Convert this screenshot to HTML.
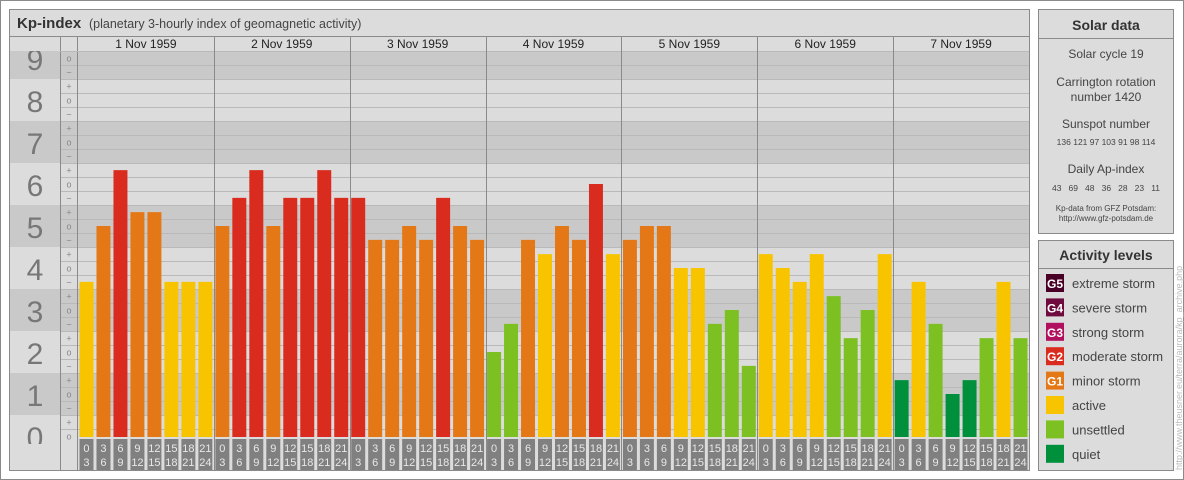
<!DOCTYPE html>
<html><head><meta charset="utf-8"><style>
html,body{margin:0;padding:0;background:#fff;}
svg{display:block;font-family:"Liberation Sans",sans-serif;}
</style></head><body>
<svg id="c" width="1184" height="480" viewBox="0 0 1184 480" xmlns="http://www.w3.org/2000/svg">
<rect x="0.5" y="0.5" width="1183" height="479" fill="#fff" stroke="#8a8a8a"/>
<g>
<rect x="9.5" y="9.5" width="1020" height="461" fill="#dcdcdc" stroke="#8a8a8a"/>
<rect x="10" y="10" width="1019" height="26" fill="#dcdcdc"/>
<line x1="10" y1="36.5" x2="1029" y2="36.5" stroke="#8a8a8a"/>
<text x="17" y="28" font-size="15" font-weight="bold" fill="#333">Kp-index</text>
<text x="89" y="28" font-size="12.5" fill="#444">(planetary 3-hourly index of geomagnetic activity)</text>
<g id="grid"></g>
<g id="bars"></g>
<g id="labels"></g>
</g>
<g>
<rect x="1038.5" y="9.5" width="135" height="224" fill="#dcdcdc" stroke="#8a8a8a"/>
<line x1="1039" y1="38.5" x2="1173" y2="38.5" stroke="#8a8a8a"/>
<text x="1106" y="30" font-size="14" font-weight="bold" fill="#333" text-anchor="middle">Solar data</text>
<g font-size="12" fill="#444" text-anchor="middle">
<text x="1106" y="58">Solar cycle 19</text>
<text x="1106" y="86">Carrington rotation</text>
<text x="1106" y="101">number 1420</text>
<text x="1106" y="128">Sunspot number</text>
<text x="1106" y="173">Daily Ap-index</text>
</g>
<text x="1106" y="145" font-size="8.5" fill="#444" text-anchor="middle">136 121  97  103  91   98  114</text>
<text x="1106" y="191" font-size="8.5" fill="#444" text-anchor="middle" xml:space="preserve">43   69   48   36   28   23   11</text>
<text x="1106" y="211" font-size="8" fill="#444" text-anchor="middle">Kp-data from GFZ Potsdam:</text>
<text x="1106" y="221" font-size="8" fill="#444" text-anchor="middle">http://www.gfz-potsdam.de</text>
</g>
<g>
<rect x="1038.5" y="240.5" width="135" height="230" fill="#dcdcdc" stroke="#8a8a8a"/>
<line x1="1039" y1="268.5" x2="1173" y2="268.5" stroke="#8a8a8a"/>
<text x="1106" y="260" font-size="14" font-weight="bold" fill="#333" text-anchor="middle">Activity levels</text>
<g id="legend"></g>
</g>
<text transform="translate(1182,470) rotate(-90)" font-size="9" fill="#bbb">http://www.theusner.eu/terra/aurora/kp_archive.php</text>
</svg>
<script>
const days = ["1 Nov 1959","2 Nov 1959","3 Nov 1959","4 Nov 1959","5 Nov 1959","6 Nov 1959","7 Nov 1959"];
const hourStarts = ["0","3","6","9","12","15","18","21"];
const hourEnds = ["3","6","9","12","15","18","21","24"];
const kpValues = [
 3.67,5,6.33,5.33,5.33,3.67,3.67,3.67,
 5,5.67,6.33,5,5.67,5.67,6.33,5.67,
 5.67,4.67,4.67,5,4.67,5.67,5,4.67,
 2,2.67,4.67,4.33,5,4.67,6,4.33,
 4.67,5,5,4,4,2.67,3,1.67,
 4.33,4,3.67,4.33,3.33,2.33,3,4.33,
 1.33,3.67,2.67,1,1.33,2.33,3.67,2.33
];
const kpTicks = ["0","1","2","3","4","5","6","7","8","9"];
const legendCodes = ["G5","G4","G3","G2","G1","","",""];
const legendNames = ["extreme storm","severe storm","strong storm","moderate storm","minor storm","active","unsettled","quiet"];
const legendColors = ["#4a0026","#6e0a3e","#b0105e","#d92c1e","#e57816","#f8c400","#7cc022","#00903c"];

const NS="http://www.w3.org/2000/svg";
function mk(tag,attrs,parent){const e=document.createElementNS(NS,tag);for(const k in attrs)e.setAttribute(k,attrs[k]);parent.appendChild(e);return e;}
const X0=78, X1=1029, slot=(X1-X0)/kpValues.length;
const yOf=v=>436-v*42;
const xOf=i=>X0+i*slot;
function colorOf(v){if(v>=5.66)return legendColors[3];if(v>=4.66)return legendColors[4];if(v>=3.66)return legendColors[5];if(v>=1.66)return legendColors[6];return legendColors[7];}

const grid=document.getElementById('grid');
// bands
kpTicks.forEach((t,n)=>{
  const top=Math.max(51,yOf(n+1/3)-7), bot=Math.min(443,yOf(n-1/3)+7);
  const dark=(n%2===1);
  const b=mk('rect',{x:10,y:top,width:1019,height:bot-top,fill:dark?'#c9c9c9':'#dcdcdc'},grid);
  
  
  const lab=mk('text',{x:35,y:yOf(n)+12,'font-size':'30','fill':'#777','text-anchor':'middle'},grid);
  lab.textContent=t;
  
  
});
// sub rows
const subs=["−","o","+"];
for(let k=1;k<=28;k++){
  const v=k/3-1/3; // 0o at k=1
  const y=yOf(v);
  mk('line',{x1:60,x2:1029,y1:y-7+0.5,y2:y-7+0.5,stroke:'#b9b9b9'},grid);
  const s=mk('text',{x:69,y:y+3.5,'font-size':'9','fill':'#888','text-anchor':'middle'},grid);
  s.textContent=subs[(k)%3];
  
  
}
mk('rect',{x:10,y:37,width:1019,height:14,fill:'#dcdcdc'},grid);
mk('rect',{x:10,y:444,width:50,height:26,fill:'#dcdcdc'},grid);
mk('rect',{x:60,y:444,width:969,height:26,fill:'#dcdcdc'},grid);
mk('line',{x1:60.5,x2:60.5,y1:37,y2:470,stroke:'#8a8a8a'},grid);
mk('line',{x1:77.5,x2:77.5,y1:37,y2:470,stroke:'#8a8a8a'},grid);
mk('line',{x1:60,x2:1029,y1:51.5,y2:51.5,stroke:'#b9b9b9'},grid);
days.forEach((d,i)=>{
  const xs=xOf(i*8);
  if(i>0){mk('line',{x1:Math.round(xs)+0.5,x2:Math.round(xs)+0.5,y1:37,y2:470,stroke:'#8a8a8a'},grid);}
  const t=mk('text',{x:xs+slot*4,y:48,'font-size':'12','fill':'#222','text-anchor':'middle'},grid);
  t.textContent=d;
  
  
});
const bars=document.getElementById('bars');
const labels=document.getElementById('labels');
kpValues.forEach((v,i)=>{
  const x=xOf(i)+1.5, w=slot-3;
  const r=mk('rect',{x:x,y:yOf(v),width:w,height:437-yOf(v),fill:colorOf(v)},bars);
  
  
  const h=i%8;
  const b=mk('rect',{x:x,y:439,width:w,height:31,fill:'#808080'},labels);
  
  
  const t1=mk('text',{x:x+w/2,y:452,'font-size':'11','fill':'#e8e8e8','text-anchor':'middle'},labels);
  t1.textContent=hourStarts[h];
  
  
  const t2=mk('text',{x:x+w/2,y:466,'font-size':'11','fill':'#e8e8e8','text-anchor':'middle'},labels);
  t2.textContent=hourEnds[h];
  
  
});
const leg=document.getElementById('legend');
legendNames.forEach((n,i)=>{
  const y=274+i*24.4;
  const sw=mk('rect',{x:1046,y:y,width:18,height:18,fill:legendColors[i]},leg);
  
  
  if(legendCodes[i]){const c=mk('text',{x:1055,y:y+14,'font-size':'12','font-weight':'bold','fill':'#fff','text-anchor':'middle'},leg);c.textContent=legendCodes[i];
  
  }
  const t=mk('text',{x:1072,y:y+14,'font-size':'13','fill':'#444'},leg);
  t.textContent=n;
  
  
});
</script>
</body></html>
